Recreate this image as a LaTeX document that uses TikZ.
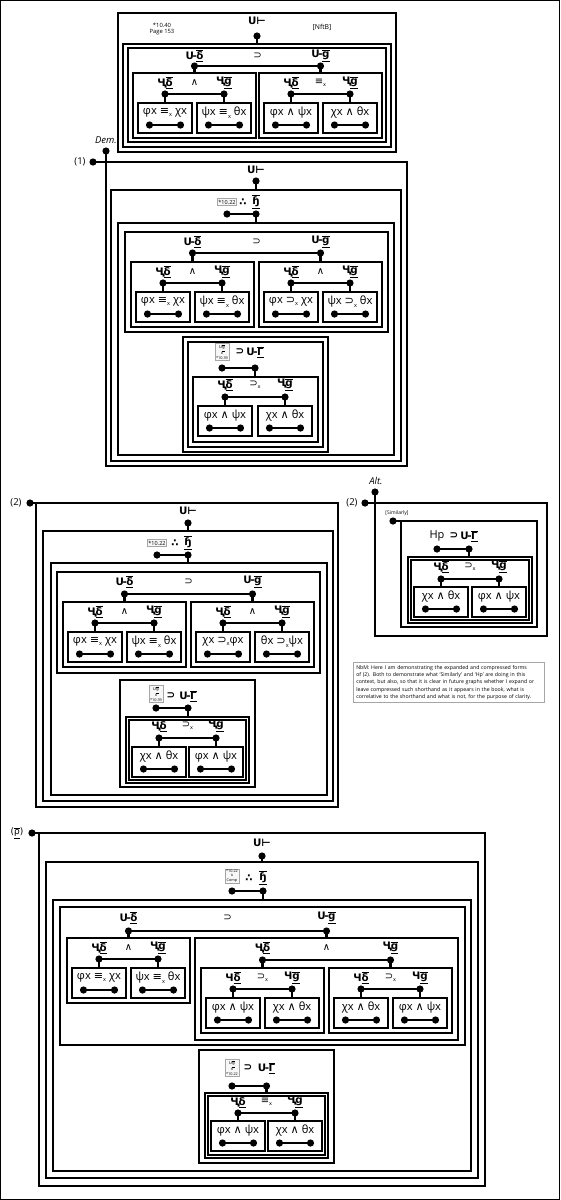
\documentclass[tikz,border=0pt]{standalone}
\usepackage{fontspec}
\setmainfont{Open Sans}
\newfontfamily\sym{DejaVu Sans}
\newcommand\ou[1]{$\overline{\underline{\mbox{#1}}}$}
\newcommand\Gd{\ou{δ}}
\newcommand\Gg{\ou{g}}
\newcommand\Gr{\ou{Γ}}
\newcommand\Gs{\ou{ɧ}}
\newcommand\Uu{Ս\kern-0.5pt-\kern-0.5pt}
\newcommand\Cc{Ҷ}
\newcommand\Cn{Ч}
\newcommand\sx{\raisebox{-0.35ex}{\scalebox{0.5}{x}}}
\newcommand\EQ{{\sym ≡}\sx}
\newcommand\IMP{{\sym ⊃}\sx}
\newcommand\AND{{\sym ∧}}
\tikzset{
  box/.style={draw, line width=1.7pt},
  frame/.style={draw, line width=1.4pt},
  bar/.style={line width=2.3pt},
  lab/.style={inner sep=0pt, font=\sym\bfseries\fontsize{10.3}{11}\selectfont},
  op/.style={inner sep=0pt, font=\sym\fontsize{10}{11}\selectfont},
  lf/.style={inner sep=0pt, font=\fontsize{11.2}{12}\selectfont},
  num/.style={inner sep=0pt, font=\fontsize{9.5}{10}\selectfont},
  ital/.style={inner sep=0pt, font=\itshape\fontsize{9.5}{10}\selectfont},
  refbox/.style={draw=gray!70, line width=0.6pt, fill=gray!6, inner sep=1.2pt, align=center, font=\fontsize{5.5}{6}\selectfont},
  refbox3/.style={draw=gray!70, line width=0.6pt, fill=gray!6, inner sep=1pt, align=center, font=\fontsize{3.8}{4.3}\selectfont},
  tinyt/.style={inner sep=0pt, align=center, font=\fontsize{5.8}{6.8}\selectfont},
  note/.style={draw=gray!70, line width=0.6pt, inner sep=3pt, align=left, anchor=north west, font=\fontsize{5.2}{7.3}\selectfont}
}
\newcommand\dotr{3.6pt}
% leaf: name, x, y, text
\newcommand\leaf[4]{%
  \draw[box] (#2,#3) rectangle ++(54,30);
  \node[lf] (#1) at (#2+27,#3+10) {#4};
  \coordinate (#1-t) at (#2+27,#3);
  \coordinate (#1-l) at (#2+11.5,#3+22);
  \coordinate (#1-r) at (#2+42.5,#3+22);
  \draw[bar] (#1-l) -- (#1-r);
  \fill (#1-l) circle (\dotr) (#1-r) circle (\dotr);
}
% pair: name, xl, xr, ydot, ylab, L, op, R
\newcommand\pair[8]{%
  \node[lab] (#1-L) at (#2,#5) {#6};
  \node[op] (#1-O) at ({(#2+#3)/2},#5) {#7};
  \node[lab] (#1-R) at (#3,#5) {#8};
  \coordinate (#1-l) at (#2,#4);
  \coordinate (#1-r) at (#3,#4);
  \draw[bar] (#1-l) -- (#1-r);
  \fill (#1-l) circle (\dotr) (#1-r) circle (\dotr);
}
% midbox: name, x, y, L, op, R, leaf1, leaf2
\newcommand\midbox[8]{%
  \draw[box] (#2,#3) rectangle ++(123,65);
  \coordinate (#1-t) at (#2+61.5,#3);
  \leaf{#1a}{#2+5}{#3+30}{#7}%
  \leaf{#1b}{#2+64}{#3+30}{#8}%
  \pair{#1}{#2+32}{#2+91}{#3+21}{#3+10}{#4}{#5}{#6}%
  \draw[bar] (#1-l) -- (#1a-t) (#1-r) -- (#1b-t);
}
% refrow: name, xl, xop, xr, ydot, ylab, (unused), op, glyph
\newcommand\refrow[9]{%
  \node[lab] (#1-O) at (#3,#6) {#8};
  \node[lab] (#1-R) at (#4,#6) {#9};
  \coordinate (#1-l) at (#2,#5);
  \coordinate (#1-r) at (#4,#5);
  \draw[bar] (#1-l) -- (#1-r);
  \fill (#1-l) circle (\dotr) (#1-r) circle (\dotr);
}
\begin{document}
\begin{tikzpicture}[x=1pt,y=-1pt]
\useasboundingbox (0,0) rectangle (560,1200);
\draw[frame] (0.7,0.7) rectangle (559.3,1199.3);

% ================= TOP =================
\draw[box] (118,13) rectangle (396,152);
\node[tinyt] (t-ref) at (162,29) {*10.40\\Page 153};
\node[lab] (t-U) at (257,21) {U⊢};
\node[tinyt, font=\fontsize{6.8}{7}\selectfont] (t-nf) at (322,27) {[NftB]};
\coordinate (t-d) at (257,36);
\coordinate (t-Bt) at (257,44);
\draw[bar] (t-d) -- (t-Bt); \fill (t-d) circle (\dotr);
\draw[box] (123,44) rectangle (391,147);
\draw[box] (128,48) rectangle (386,142);
\pair{t-p}{194.5}{320.5}{66}{56}{\Uu\Gd}{⊃}{\Uu\Gg}
\midbox{tma}{133}{73}{\Cc\Gd}{∧}{\Cc\Gg}{φx \EQ{} χx}{ψx \EQ{} θx}
\midbox{tmb}{259}{73}{\Cc\Gd}{\EQ}{\Cc\Gg}{φx \AND{} ψx}{χx \AND{} θx}
\draw[bar] (t-p-l) -- (tma-t) (t-p-r) -- (tmb-t);

% ================= SECTION (1) =================
\coordinate (s1-c) at (106,162);
\coordinate (s1-dem) at (106,151);
\coordinate (s1-n) at (93,162);
\node[ital] (s1-demt) at (106,140) {Dem.};
\node[num] (s1-nt) at (80,162) {(1)};
\draw[box] (s1-c) rectangle (407,466);
\draw[box] (s1-dem) -- (s1-c) -- (s1-n);
\fill (s1-dem) circle (\dotr) (s1-n) circle (\dotr);
\draw[box] (111,190) rectangle (401,461);
\node[lab] (s1-U) at (256,170) {U⊢};
\coordinate (s1-ud) at (256,181);
\draw[bar] (s1-ud) -- (256,190); \fill (s1-ud) circle (\dotr);
\draw[box] (118,223) rectangle (394,455);
\node[refbox] (s1-ref) at (227,202) {*10.22};
\refrow{s1-r}{227}{243}{256}{214}{202}{}{∴}{\Gs}
\draw[bar] (s1-r-r) -- (256,223);
\draw[box] (125,232) rectangle (388,332);
\pair{s1-p}{192.5}{320.5}{253}{242}{\Uu\Gd}{⊃}{\Uu\Gg}
\midbox{s1a}{131}{262}{\Cc\Gd}{∧}{\Cc\Gg}{φx \EQ{} χx}{ψx \EQ{} θx}
\midbox{s1b}{259}{262}{\Cc\Gd}{∧}{\Cc\Gg}{φx \IMP{} χx}{ψx \IMP{} θx}
\draw[bar] (s1-p-l) -- (s1a-t) (s1-p-r) -- (s1b-t);
% sub box E
\draw[box] (183,337) rectangle (328,452);
\draw[box] (188,342) rectangle (323,447);
\node[refbox3] (s1-ref2) at (222,352) {{\sym\Uu\Gg}\\{\sym ∧}\\*10.39};
\refrow{s1-e}{222}{240}{255}{368}{352}{}{⊃}{\Uu\Gr}
\draw[bar] (s1-e-r) -- (255,377);
\draw[box] (193,377) rectangle (318,442);
\leaf{s1-fa}{198}{406}{φx \AND{} ψx}
\leaf{s1-fb}{258}{406}{χx \AND{} θx}
\pair{s1-f}{225}{285}{397}{385}{\Cc\Gd}{⊃\sx}{\Cc\Gg}
\draw[bar] (s1-f-l) -- (s1-fa-t) (s1-f-r) -- (s1-fb-t);

% ================= SECTION (2) =================
\coordinate (s2-c) at (36,503);
\coordinate (s2-n) at (30,503);
\node[num] (s2-nt) at (16,503) {(2)};
\draw[box] (s2-c) rectangle (338,807);
\draw[box] (s2-n) -- (s2-c);
\fill (s2-n) circle (\dotr);
\draw[box] (43,531) rectangle (333,801);
\node[lab] (s2-U) at (188,511) {U⊢};
\coordinate (s2-ud) at (188,523);
\draw[bar] (s2-ud) -- (188,531); \fill (s2-ud) circle (\dotr);
\draw[box] (51,563) rectangle (327,795);
\node[refbox] (s2-ref) at (157,543) {*10.22};
\refrow{s2-r}{157}{175}{188}{555}{543}{}{∴}{\Gs}
\draw[bar] (s2-r-r) -- (188,563);
\draw[box] (57,572) rectangle (320,673);
\pair{s2-p}{124.5}{252.5}{594}{582}{\Uu\Gd}{⊃}{\Uu\Gg}
\midbox{s2a}{63}{602}{\Cc\Gd}{∧}{\Cc\Gg}{φx \EQ{} χx}{ψx \EQ{} θx}
\midbox{s2b}{191}{602}{\Cc\Gd}{∧}{\Cc\Gg}{χx \IMP{}φx}{θx \IMP{}ψx}
\draw[bar] (s2-p-l) -- (s2a-t) (s2-p-r) -- (s2b-t);
\draw[box] (120,680) rectangle (255,787);
\node[refbox3] (s2-ref2) at (156,694) {{\sym\Uu\Gg}\\{\sym ∧}\\*10.39};
\refrow{s2-e}{156}{171}{188}{708}{696}{}{⊃}{\Uu\Gr}
\draw[bar] (s2-e-r) -- (188,717);
\draw[box] (126,717) rectangle (249,783);
\draw[box] (129,720) rectangle (246,780);
\leaf{s2-fa}{132}{747}{χx \AND{} θx}
\leaf{s2-fb}{189}{747}{φx \AND{} ψx}
\pair{s2-f}{159}{216}{738}{726}{\Cc\Gd}{⊃\sx}{\Cc\Gg}
\draw[bar] (s2-f-l) -- (s2-fa-t) (s2-f-r) -- (s2-fb-t);

% ================= ALT =================
\coordinate (al-c) at (375,503);
\coordinate (al-dem) at (375,492);
\coordinate (al-n) at (365,503);
\node[ital] (al-t) at (376,481) {Alt.};
\node[num] (al-nt) at (352,503) {(2)};
\draw[box] (al-c) rectangle (547,636);
\draw[box] (al-dem) -- (al-c) -- (al-n);
\fill (al-dem) circle (\dotr) (al-n) circle (\dotr);
\node[tinyt, font=\fontsize{5}{6}\selectfont] (al-sim) at (397,513) {[Similarly]};
\coordinate (al-s) at (393,521);
\coordinate (al-sc) at (401,521);
\draw[box] (al-sc) rectangle (537,627);
\draw[box] (al-s) -- (al-sc);
\fill (al-s) circle (\dotr);
\node[inner sep=0pt, font=\fontsize{11}{12}\selectfont] (al-hp) at (437,536) {Hp};
\refrow{al-h}{437}{454}{469}{549}{536}{}{⊃}{\Uu\Gr}
\draw[bar] (al-h-r) -- (469,557);
\draw[box] (408,557) rectangle (532,623);
\draw[box] (411,560) rectangle (529,620);
\leaf{al-fa}{414}{587}{χx \AND{} θx}
\leaf{al-fb}{472}{587}{φx \AND{} ψx}
\pair{al-f}{441}{499}{579}{567}{\Cc\Gd}{⊃\sx}{\Cc\Gg}
\draw[bar] (al-f-l) -- (al-fa-t) (al-f-r) -- (al-fb-t);

% note
\node[note, text width=185pt] (nbm) at (353,662) {NbM: Here I am demonstrating the expanded and compressed forms\\of (2). Both to demonstrate what `Similarly' and `Hp' are doing in this\\context, but also, so that it is clear in future graphs whether I expand or\\leave compressed such shorthand as it appears in the book, what is\\correlative to the shorthand and what is not, for the purpose of clarity.};

% ================= BOTTOM SECTION =================
\coordinate (s3-c) at (39,833);
\coordinate (s3-n) at (32,833);
\node[lab, font=\sym\fontsize{9}{10}\selectfont] (s3-nt) at (17,833) {(\ou{ρ})};
\draw[box] (s3-c) rectangle (485,1186);
\draw[box] (s3-n) -- (s3-c);
\fill (s3-n) circle (\dotr);
\draw[box] (46,862) rectangle (478,1178);
\node[lab] (s3-U) at (262,843) {U⊢};
\coordinate (s3-ud) at (262,856);
\draw[bar] (s3-ud) -- (262,862); \fill (s3-ud) circle (\dotr);
\draw[box] (53,900) rectangle (471,1171);
\node[refbox3] (s3-ref) at (232,876) {*10.22\\{\sym ∧}\\Comp};
\refrow{s3-r}{232}{249}{263}{891}{878}{}{∴}{\Gs}
\draw[bar] (s3-r-r) -- (263,900);
\draw[box] (60,907) rectangle (465,1045);
\pair{s3-p}{128.5}{326.5}{931}{918}{\Uu\Gd}{⊃}{\Uu\Gg}
\midbox{s3a}{67}{938}{\Cc\Gd}{∧}{\Cc\Gg}{φx \EQ{} χx}{ψx \EQ{} θx}
\draw[box] (195,938) rectangle (458,1040);
\coordinate (s3m-t) at (326.5,938);
\pair{s3-q}{262.5}{390.5}{960}{948}{\Cc\Gd}{∧}{\Cc\Gg}
\midbox{s3b}{201}{968}{\Cn\Gd}{⊃\sx}{\Cn\Gg}{φx \AND{} ψx}{χx \AND{} θx}
\midbox{s3c}{329}{968}{\Cn\Gd}{⊃\sx}{\Cn\Gg}{χx \AND{} θx}{φx \AND{} ψx}
\draw[bar] (s3-p-l) -- (s3a-t) (s3-p-r) -- (s3m-t) (s3-q-l) -- (s3b-t) (s3-q-r) -- (s3c-t);
\draw[box] (199,1050) rectangle (334,1163);
\node[refbox3] (s3-ref2) at (232,1068) {{\sym\Uu\Gg}\\{\sym ∧}\\*10.22};
\refrow{s3-e}{232}{248}{266.5}{1086}{1068}{}{⊃}{\Uu\Gr}
\draw[bar] (s3-e-r) -- (266.5,1093);
\draw[box] (205,1093) rectangle (328,1158);
\draw[box] (208,1096) rectangle (325,1155);
\leaf{s3-fa}{211}{1121}{φx \AND{} ψx}
\leaf{s3-fb}{268}{1121}{χx \AND{} θx}
\pair{s3-f}{238}{295}{1113}{1102}{\Cc\Gd}{\EQ}{\Cc\Gg}
\draw[bar] (s3-f-l) -- (s3-fa-t) (s3-f-r) -- (s3-fb-t);
\end{tikzpicture}
\end{document}
